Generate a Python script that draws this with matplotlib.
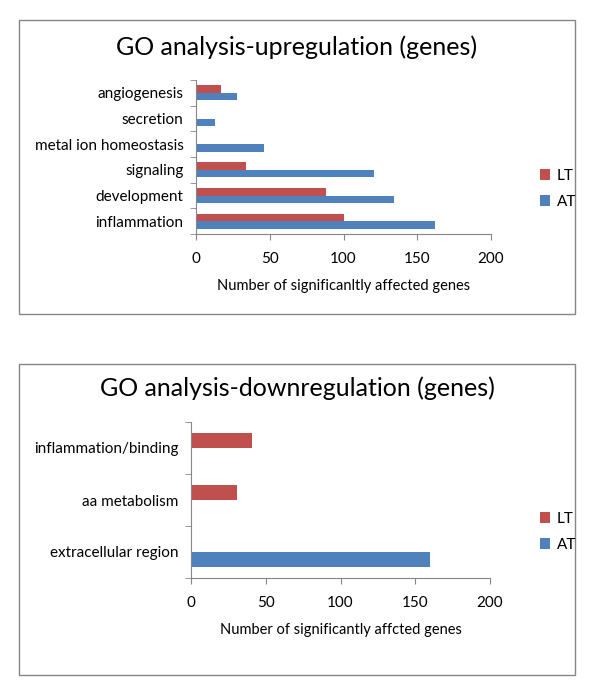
import matplotlib
matplotlib.use("Agg")
import matplotlib.pyplot as plt
import numpy as np
from matplotlib.patches import Rectangle

# ── Data ────────────────────────────────────────────────────────────────
up_categories = ["inflammation", "development", "signaling",
                 "metal ion homeostasis", "secretion", "angiogenesis"]
up_at = [162, 134, 121, 46, 13, 28]
up_lt = [100, 88, 34, 0, 0, 17]

down_categories = ["extracellular region", "aa metabolism", "inflammation/binding"]
down_at = [160, 0, 0]
down_lt = [0, 31, 41]

x_ticks = [0, 50, 100, 150, 200]

# ── Style ──────────────────────────────────────────────────────────────
W, H = 600, 685
RED = "#C0504D"
BLUE = "#4F81BD"
GRAY = "#868686"
plt.rcParams["font.family"] = ["Lato", "DejaVu Sans"]


def fx(px):
    return px / W


def fy(py):
    return 1 - py / H


def draw_panel(fig, box, ax_box, title, title_y, cats, at, lt, xlabel, legend_y):
    # outer frame
    x0, y0, x1, y1 = box
    fig.add_artist(Rectangle((fx(x0), fy(y1)), (x1 - x0) / W, (y1 - y0) / H,
                             transform=fig.transFigure, fill=False,
                             edgecolor=GRAY, linewidth=1.0))
    fig.text(fx((x0 + x1) / 2), fy(title_y), title, ha="center", va="center",
             fontsize=18, color="black")

    l, t, r, b = ax_box
    ax = fig.add_axes([fx(l), fy(b), (r - l) / W, (b - t) / H])
    y = np.arange(len(cats))
    h = 0.29
    ax.barh(y + h / 2, lt, h, color=RED, label="LT")
    ax.barh(y - h / 2, at, h, color=BLUE, label="AT")

    ax.set_xlim(0, 200)
    ax.set_ylim(-0.5, len(cats) - 0.5)
    ax.set_xticks(x_ticks)
    ax.set_yticks(y)
    ax.set_yticklabels(cats, fontsize=11)
    ax.set_yticks(np.arange(len(cats) + 1) - 0.5, minor=True)
    ax.tick_params(axis="y", which="major", length=0, pad=9)
    ax.tick_params(axis="y", which="minor", length=4, color=GRAY)
    ax.tick_params(axis="x", length=4, color=GRAY, labelsize=11, pad=9)
    for s in ["top", "right"]:
        ax.spines[s].set_visible(False)
    for s in ["left", "bottom"]:
        ax.spines[s].set_color(GRAY)
    ax.set_xlabel(xlabel, fontsize=10.5, labelpad=9)

    handles, labels = ax.get_legend_handles_labels()
    fig.legend(handles, labels, loc="center left",
               bbox_to_anchor=(fx(526), fy(legend_y)), frameon=False,
               fontsize=11, handlelength=0.7, handleheight=0.7,
               handletextpad=0.4, labelspacing=0.8)
    return ax


fig = plt.figure(figsize=(W / 100, H / 100), dpi=100)

draw_panel(fig, (19, 20, 575, 314), (196, 80, 491, 234),
           "GO analysis-upregulation (genes)", 47,
           up_categories, up_at, up_lt,
           "Number of significanltly affected genes", 189)

draw_panel(fig, (19, 364, 575, 675), (191, 422, 490, 578),
           "GO analysis-downregulation (genes)", 388,
           down_categories, down_at, down_lt,
           "Number of significantly affcted genes", 532)

fig.savefig("out.png", dpi=100, facecolor="white")
